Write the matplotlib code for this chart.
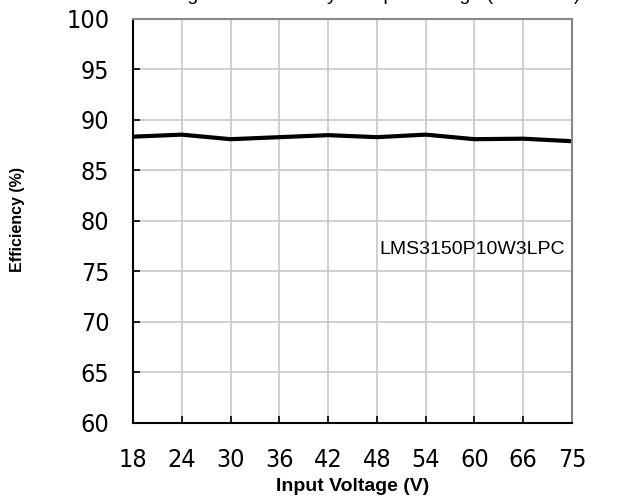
import numpy as np
import matplotlib.pyplot as plt
from matplotlib import font_manager

# input voltage points (plotted evenly spaced, like the datasheet)
voltages = ["18", "24", "30", "36", "42", "48", "54", "60", "66", "75"]
efficiency = [88.35, 88.55, 88.1, 88.3, 88.5, 88.3, 88.55, 88.1, 88.15, 87.9]
y_ticks = [60, 65, 70, 75, 80, 85, 90, 95, 100]

# the datasheet uses a narrow font for the tick numbers; pick one if available
narrow = None
for f in font_manager.fontManager.ttflist:
    if "narrow" in f.fname.lower() or "condensed" in f.fname.lower():
        if "bold" not in f.fname.lower() and "oblique" not in f.fname.lower() and "italic" not in f.fname.lower():
            narrow = f
            break
if narrow is not None:
    tick_font = font_manager.FontProperties(fname=narrow.fname, size=18)
else:
    tick_font = font_manager.FontProperties(family="DejaVu Sans", size=16)

fig = plt.figure(figsize=(6.37, 5.04), dpi=100)
ax = fig.add_axes([133 / 637, 1 - 423 / 504, (572 - 133) / 637, (423 - 19) / 504])

x = np.arange(len(voltages))
ax.plot(x, efficiency, color="black", linewidth=3)

ax.set_xlim(0, len(voltages) - 1)
ax.set_ylim(60, 100)
ax.set_xticks(x)
ax.set_xticklabels(voltages)
ax.set_yticks(y_ticks)
ax.grid(True, color="#c8c8c8", linewidth=1.2)
ax.tick_params(axis="x", direction="in", length=5, width=1.2, pad=18)
ax.tick_params(axis="y", direction="in", length=5, width=1.2, pad=17)
for lbl in ax.get_xticklabels() + ax.get_yticklabels():
    lbl.set_fontproperties(tick_font)
for s in ax.spines.values():
    s.set_linewidth(1.5)
ax.spines["top"].set_color("#888888")
ax.spines["right"].set_color("#888888")

ax.set_xlabel("Input Voltage (V)", fontsize=14, fontweight="bold",
              family="Liberation Sans", labelpad=4)
fig.text(18 / 637, 1 - 220 / 504, "Efficiency (%)", rotation=90, fontsize=11.5,
         fontweight="bold", family="Liberation Sans", ha="center", va="center")
ax.text(6.95, 77.2, "LMS3150P10W3LPC", fontsize=14, family="Liberation Sans",
        ha="center", va="center")

fig.text(0.59, 1.008, "Figure 1: Efficiency vs Input Voltage (Full Load)",
         fontsize=14, family="Liberation Sans", ha="center", va="center")

fig.savefig("out.png", dpi=100)
